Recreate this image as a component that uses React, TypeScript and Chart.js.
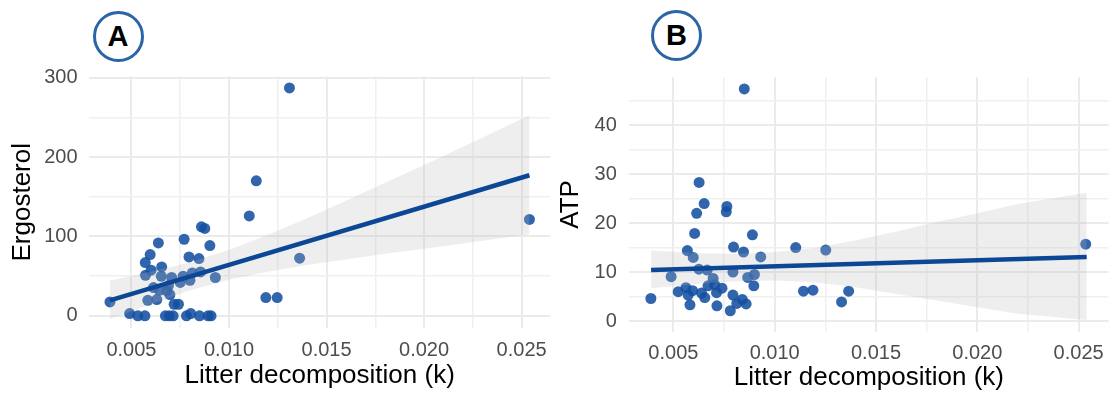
import React, { useEffect, useRef } from 'react';
import { Chart, registerables } from 'chart.js';

Chart.register(...registerables);

const FONT = "'Liberation Sans', Arial, Helvetica, sans-serif";
const W = 1114;
const H = 397;

// ---------- shared x axis ----------
const X_MIN = 0.002825;
const X_MAX = 0.026475;
const X_MAJOR = [0.005, 0.01, 0.015, 0.02, 0.025];
const X_MINOR = [0.0075, 0.0125, 0.0175, 0.0225];
const X_LABELS = ['0.005', '0.010', '0.015', '0.020', '0.025'];
const X_TITLE = 'Litter decomposition (k)';

// ---------- Panel A : Ergosterol ----------
const A_K = [
  0.01104, 0.00859, 0.00876, 0.00638, 0.0077, 0.00902, 0.00596, 0.00571, 0.00795, 0.00846,
  0.00655, 0.00601, 0.00572, 0.00653, 0.00706, 0.00765, 0.00812, 0.00854, 0.0093, 0.008,
  0.00613, 0.00643, 0.00682, 0.00584, 0.0063, 0.00697, 0.00719, 0.00741, 0.0039, 0.00491,
  0.00533, 0.00569, 0.00674, 0.00694, 0.00714, 0.00782, 0.00804, 0.00849, 0.00893, 0.00908,
  0.01189, 0.01247, 0.0114, 0.0131, 0.01362, 0.0254, 0.0069, 0.0075,
];
const A_ERG = [
  125.8, 112, 110, 91.8, 96.4, 88.5, 77.1, 67, 74.1, 72.1,
  61.5, 57.4, 51, 49.8, 48.2, 49.8, 54, 55.2, 48.2, 44.7,
  35.5, 32.1, 31.3, 19.5, 20.4, 26.7, 14.5, 14.5, 17.4, 2.8,
  0, 0, 0, 0, 0, 0, 2.8, 0, 0, 0,
  23, 23, 170, 287, 72.5, 121.3, 38, 42,
];
const A_FIT_K = [0.0039, 0.0254];
const A_FIT_Y = [19.5, 177];
const BAND_K = [0.0039, 0.006, 0.008, 0.01, 0.012, 0.014, 0.016, 0.018, 0.02, 0.022, 0.0254];
const A_BAND_HI = [44.5, 55.5, 67, 83, 102, 123, 145, 167.5, 190, 213, 252.7];
const A_BAND_LO = [-4, 14.5, 32, 45.5, 55.5, 64, 71, 78, 84.5, 91, 102.7];
const A_Y_MAJOR = [0, 100, 200, 300];
const A_Y_MINOR = [50, 150, 250];

// ---------- Panel B : ATP ----------
const B_K = [
  0.00627, 0.00652, 0.00615, 0.00764, 0.00761, 0.00605, 0.0089, 0.00569, 0.00797, 0.00846,
  0.00598, 0.00931, 0.01104, 0.00489, 0.00626, 0.00667, 0.00696, 0.00794, 0.00867, 0.009,
  0.00897, 0.00524, 0.00562, 0.00573, 0.00595, 0.00639, 0.00655, 0.00671, 0.00704, 0.00713,
  0.0074, 0.00389, 0.00582, 0.00715, 0.00781, 0.00794, 0.00813, 0.0084, 0.00859, 0.01142,
  0.01189, 0.01252, 0.0133, 0.01365, 0.02535, 0.0085,
];
const B_ATP = [
  28.3, 24.0, 22.0, 23.4, 22.3, 17.9, 17.6, 14.4, 15.1, 14.1,
  13.0, 13.1, 15.0, 9.05, 10.6, 10.4, 8.7, 10.0, 8.9, 9.5,
  7.2, 6.0, 6.8, 5.3, 6.2, 5.7, 4.8, 7.2, 7.4, 5.8,
  6.7, 4.6, 3.3, 3.1, 2.1, 5.3, 3.6, 4.4, 3.5, 6.1,
  6.3, 14.5, 3.9, 6.1, 15.7, 47.4,
];
const B_FIT_K = [0.0039, 0.0254];
const B_FIT_Y = [10.42, 13.1];
const B_BAND_HI = [14.4, 13.9, 13.7, 14.1, 14.9, 16.5, 18.3, 20.2, 22.0, 23.9, 26.2];
const B_BAND_LO = [6.7, 7.5, 8.1, 8.3, 7.9, 6.9, 5.5, 4.2, 2.8, 1.5, 0.2];
const B_Y_MAJOR = [0, 10, 20, 30, 40];
const B_Y_MINOR = [5, 15, 25, 35, 45];

// ---------- styles ----------
const POINT_COLOR = 'rgba(20, 80, 160, 0.88)';
const LINE_COLOR = '#0c4796';
const BAND_COLOR = 'rgba(185, 185, 185, 0.24)';
const GRID_MAJOR = '#ebebeb';
const GRID_MINOR = '#f0f0f0';
const TICK_COLOR = '#4d4d4d';
const BADGE_COLOR = '#2a65a6';

type Spec = {
  left: number;
  width: number;
  area: { left: number; right: number; top: number; bottom: number };
  xs: number[];
  ys: number[];
  fitX: number[];
  fitY: number[];
  bandHi: number[];
  bandLo: number[];
  yMin: number;
  yMax: number;
  yMajor: number[];
  yMinor: number[];
  yTitle: string;
  yTitlePad: number;
  xTitlePad: number;
  yTickPad: number;
  xTickPad: number;
};

const toXY = (xs: number[], ys: number[]) => xs.map((x, i) => ({ x, y: ys[i] }));

function Panel({ spec }: { spec: Spec }) {
  const ref = useRef<HTMLCanvasElement | null>(null);
  useEffect(() => {
    if (!ref.current) return;
    const s = spec;
    const allX = [...X_MAJOR, ...X_MINOR].sort((a, b) => a - b);
    const allY = [...s.yMajor, ...s.yMinor].sort((a, b) => a - b);
    const chart = new Chart(ref.current, {
      type: 'line',
      data: {
        datasets: [
          {
            label: 'points',
            data: toXY(s.xs, s.ys),
            showLine: false,
            pointRadius: 5.5,
            pointHoverRadius: 5.5,
            pointBackgroundColor: POINT_COLOR,
            pointBorderWidth: 0,
            pointBorderColor: 'rgba(0,0,0,0)',
            order: 3,
          },
          {
            label: 'bandHi',
            data: toXY(BAND_K, s.bandHi),
            borderColor: 'rgba(0,0,0,0)',
            borderWidth: 0,
            pointRadius: 0,
            backgroundColor: BAND_COLOR,
            fill: '+1',
            order: 2,
          },
          {
            label: 'bandLo',
            data: toXY(BAND_K, s.bandLo),
            borderColor: 'rgba(0,0,0,0)',
            borderWidth: 0,
            pointRadius: 0,
            fill: false,
            order: 2,
          },
          {
            label: 'fit',
            data: toXY(s.fitX, s.fitY),
            borderColor: LINE_COLOR,
            borderWidth: 4.5,
            pointRadius: 0,
            fill: false,
            order: 0,
          },
        ],
      },
      options: {
        animation: false,
        responsive: false,
        events: [],
        layout: {
          padding: { left: 0, top: s.area.top, right: s.width - s.area.right, bottom: 0 },
        },
        plugins: {
          legend: { display: false },
          tooltip: { enabled: false },
          title: { display: false },
        },
        scales: {
          x: {
            type: 'linear',
            min: X_MIN,
            max: X_MAX,
            afterBuildTicks: (scale: any) => {
              scale.ticks = allX.map((v) => ({ value: v }));
            },
            afterFit: (scale: any) => {
              scale.height = H - s.area.bottom;
            },
            border: { display: false },
            grid: {
              drawTicks: false,
              color: (ctx: any) => (X_MAJOR.includes(ctx.tick?.value) ? GRID_MAJOR : GRID_MINOR),
              lineWidth: (ctx: any) => (X_MAJOR.includes(ctx.tick?.value) ? 2 : 1.5),
            },
            ticks: {
              autoSkip: false,
              maxRotation: 0,
              padding: s.xTickPad,
              color: TICK_COLOR,
              font: { family: FONT, size: 20 },
              callback: (value: any) => {
                const i = X_MAJOR.indexOf(Number(value));
                return i >= 0 ? X_LABELS[i] : '';
              },
            },
            title: {
              display: true,
              text: X_TITLE,
              color: '#000',
              font: { family: FONT, size: 26 },
              padding: { top: 0, bottom: s.xTitlePad },
            },
          },
          y: {
            type: 'linear',
            min: s.yMin,
            max: s.yMax,
            afterBuildTicks: (scale: any) => {
              scale.ticks = allY.map((v) => ({ value: v }));
            },
            afterFit: (scale: any) => {
              scale.width = s.area.left;
            },
            border: { display: false },
            grid: {
              drawTicks: false,
              color: (ctx: any) => (s.yMajor.includes(ctx.tick?.value) ? GRID_MAJOR : GRID_MINOR),
              lineWidth: (ctx: any) => (s.yMajor.includes(ctx.tick?.value) ? 2 : 1.5),
            },
            ticks: {
              autoSkip: false,
              padding: s.yTickPad,
              color: TICK_COLOR,
              font: { family: FONT, size: 20 },
              callback: (value: any) => (s.yMajor.includes(Number(value)) ? String(value) : ''),
            },
            title: {
              display: true,
              text: s.yTitle,
              color: '#000',
              font: { family: FONT, size: 26 },
              padding: { top: s.yTitlePad, bottom: 0 },
            },
          },
        },
      } as any,
    });
    return () => chart.destroy();
  }, [spec]);

  return (
    <canvas
      ref={ref}
      width={spec.width}
      height={H}
      style={{ position: 'absolute', left: spec.left, top: 0, width: spec.width, height: H }}
    />
  );
}

const SPEC_A: Spec = {
  left: 0,
  width: 557,
  area: { left: 89, right: 556, top: 76.5, bottom: 328 },
  xs: A_K,
  ys: A_ERG,
  fitX: A_FIT_K,
  fitY: A_FIT_Y,
  bandHi: A_BAND_HI,
  bandLo: A_BAND_LO,
  yMin: -15.4,
  yMax: 301.4,
  yMajor: A_Y_MAJOR,
  yMinor: A_Y_MINOR,
  yTitle: 'Ergosterol',
  yTitlePad: 7,
  xTitlePad: 6,
  yTickPad: 11.5,
  xTickPad: 10,
};

const SPEC_B: Spec = {
  left: 555,
  width: 559,
  area: { left: 74.3, right: 557, top: 77.2, bottom: 331.6 },
  xs: B_K,
  ys: B_ATP,
  fitX: B_FIT_K,
  fitY: B_FIT_Y,
  bandHi: B_BAND_HI,
  bandLo: B_BAND_LO,
  yMin: -2.16,
  yMax: 49.8,
  yMajor: B_Y_MAJOR,
  yMinor: B_Y_MINOR,
  yTitle: 'ATP',
  yTitlePad: 0.5,
  xTitlePad: 4,
  yTickPad: 12.5,
  xTickPad: 10,
};

function Badge({ letter, cx, cy }: { letter: string; cx: number; cy: number }) {
  const d = 51;
  return (
    <div
      style={{
        position: 'absolute',
        left: cx - d / 2,
        top: cy - d / 2,
        width: d,
        height: d,
        boxSizing: 'border-box',
        border: `3px solid ${BADGE_COLOR}`,
        borderRadius: '50%',
        display: 'flex',
        alignItems: 'center',
        justifyContent: 'center',
        fontFamily: FONT,
        fontWeight: 700,
        fontSize: 29,
        color: '#000',
        lineHeight: 1,
        background: '#fff',
      }}
    >
      {letter}
    </div>
  );
}

export default function App() {
  return (
    <div
      style={{
        position: 'absolute',
        left: 0,
        top: 0,
        width: W,
        height: H,
        background: '#fff',
        overflow: 'hidden',
      }}
    >
      <Panel spec={SPEC_A} />
      <Panel spec={SPEC_B} />
      <Badge letter="A" cx={118} cy={36} />
      <Badge letter="B" cx={676.5} cy={35.5} />
    </div>
  );
}
